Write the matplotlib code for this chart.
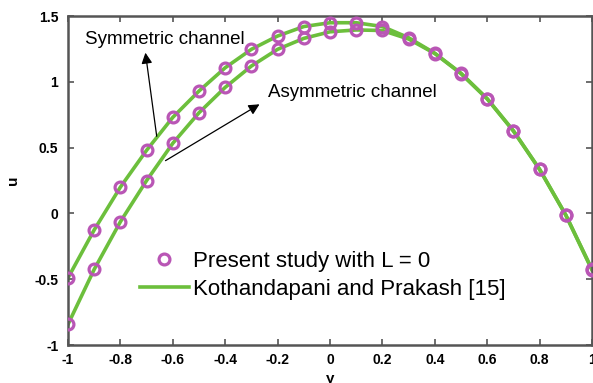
import matplotlib.pyplot as plt

plt.rcParams['font.family'] = ['Liberation Sans', 'DejaVu Sans']

# values
y_pos = [-1.0, -0.9, -0.8, -0.7, -0.6, -0.5, -0.4, -0.3, -0.2, -0.1, 0.0,
         0.1, 0.2, 0.3, 0.4, 0.5, 0.6, 0.7, 0.8, 0.9, 1.0]
u_symmetric = [-0.49, -0.125, 0.20, 0.48, 0.73, 0.93, 1.107, 1.247, 1.348, 1.42, 1.449,
               1.449, 1.42, 1.335, 1.217, 1.065, 0.872, 0.628, 0.335, -0.012, -0.425]
u_asymmetric = [-0.843, -0.425, -0.063, 0.25, 0.533, 0.765, 0.958, 1.12, 1.247, 1.33, 1.38,
                1.394, 1.39, 1.325, 1.215, 1.062, 0.87, 0.626, 0.334, -0.013, -0.43]

x_ticks = [-1, -0.8, -0.6, -0.4, -0.2, 0, 0.2, 0.4, 0.6, 0.8, 1]
x_tick_labels = ['-1', '-0.8', '-0.6', '-0.4', '-0.2', '0', '0.2', '0.4', '0.6', '0.8', '1']
u_ticks = [-1, -0.5, 0, 0.5, 1, 1.5]
u_tick_labels = ['-1', '-0.5', '0', '0.5', '1', '1.5']

green = '#6cbf3c'
purple = '#b956b5'

fig = plt.figure(figsize=(5.93, 3.83), dpi=100)
ax = fig.add_axes([0.1147, 0.0992, 0.8836, 0.8590])

# reference solution (lines)
ax.plot(y_pos, u_symmetric, color=green, lw=2.6, label='Kothandapani and Prakash [15]', zorder=2)
ax.plot(y_pos, u_asymmetric, color=green, lw=2.6, zorder=2)
# present study (markers)
ax.plot(y_pos, u_symmetric, 'o', ms=7.8, mfc='none', mec=purple, mew=2.3,
        label='Present study with L = 0', zorder=3)
ax.plot(y_pos, u_asymmetric, 'o', ms=7.8, mfc='none', mec=purple, mew=2.3, zorder=3)

ax.set_xlim(-1, 1)
ax.set_ylim(-1, 1.5)
ax.set_xticks(x_ticks)
ax.set_xticklabels(x_tick_labels)
ax.set_yticks(u_ticks)
ax.set_yticklabels(u_tick_labels)
ax.tick_params(direction='in', top=True, right=True, length=4, width=1.2,
               color='#555555', labelsize=10)
ax.tick_params(axis='x', pad=6)
ax.tick_params(axis='y', pad=7)
for lab in ax.get_xticklabels() + ax.get_yticklabels():
    lab.set_fontweight('bold')
for sp in ax.spines.values():
    sp.set_linewidth(1.8)
    sp.set_color('#555555')

ax.set_xlabel('y', fontweight='bold', fontsize=11)
ax.set_ylabel('u', fontweight='bold', fontsize=11)
ax.xaxis.set_label_coords(0.5, -0.082)
ax.yaxis.set_label_coords(-0.092, 0.5)

ax.text(-0.63, 1.318, 'Symmetric channel', fontsize=13.5, ha='center', va='center')
ax.annotate('', xy=(-0.706, 1.242), xytext=(-0.66, 0.565),
            arrowprops=dict(arrowstyle='-|>', color='black', lw=0.9, mutation_scale=16))
ax.text(-0.237, 0.92, 'Asymmetric channel', fontsize=13.5, ha='left', va='center')
ax.annotate('', xy=(-0.26, 0.84), xytext=(-0.637, 0.39),
            arrowprops=dict(arrowstyle='-|>', color='black', lw=0.9, mutation_scale=16))

handles, labels = ax.get_legend_handles_labels()
ax.legend(handles[::-1], labels[::-1], loc='lower left', bbox_to_anchor=(0.12, 0.11),
          frameon=False, fontsize=16, handlelength=2.2, handletextpad=0.2,
          labelspacing=0.3, borderaxespad=0)

fig.savefig('out.png', dpi=100)
